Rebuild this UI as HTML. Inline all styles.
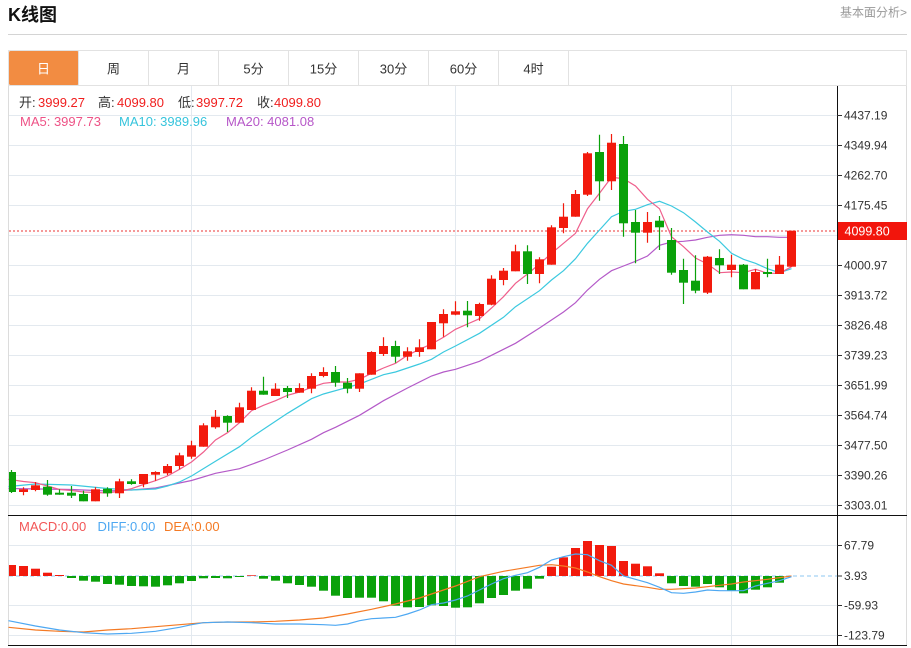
<!DOCTYPE html>
<html><head><meta charset="utf-8"><style>
html,body{margin:0;padding:0;background:#fff;width:911px;height:648px;overflow:hidden}
svg{display:block}
text{font-family:"Liberation Sans","Noto Sans CJK SC",sans-serif}
</style></head><body>
<svg width="911" height="648" viewBox="0 0 911 648" xmlns="http://www.w3.org/2000/svg">
<rect width="911" height="648" fill="#fff"/>
<!-- header -->
<text x="8" y="21" font-size="18" font-weight="bold" fill="#111">K线图</text>
<text x="907" y="16.5" font-size="12" fill="#999" text-anchor="end">基本面分析&gt;</text>
<rect x="8" y="34" width="899" height="1" fill="#d4d4d4"/>
<!-- tabs -->
<rect x="8.5" y="50.5" width="898" height="35" fill="#fff" stroke="#e2e2e2"/>
<rect x="9" y="51" width="69.5" height="34" fill="#f28c42" rx="1.5"/>
<g stroke="#e2e2e2">
<line x1="78.5" y1="51" x2="78.5" y2="85"/><line x1="148.5" y1="51" x2="148.5" y2="85"/><line x1="218.5" y1="51" x2="218.5" y2="85"/><line x1="288.5" y1="51" x2="288.5" y2="85"/><line x1="358.5" y1="51" x2="358.5" y2="85"/><line x1="428.5" y1="51" x2="428.5" y2="85"/><line x1="498.5" y1="51" x2="498.5" y2="85"/><line x1="568.5" y1="51" x2="568.5" y2="85"/>
</g>
<g font-size="13" text-anchor="middle" fill="#333">
<text x="43.5" y="73.5" fill="#fff">日</text><text x="113.5" y="73.5">周</text><text x="183.5" y="73.5">月</text><text x="253.5" y="73.5">5分</text><text x="323.5" y="73.5">15分</text><text x="393.5" y="73.5">30分</text><text x="463.5" y="73.5">60分</text><text x="533.5" y="73.5">4时</text>
</g>
<!-- chart frame -->
<line x1="8.5" y1="86" x2="8.5" y2="646" stroke="#dcdcdc"/>
<line x1="906.5" y1="86" x2="906.5" y2="646" stroke="#dcdcdc"/>
<!-- grid -->
<g stroke="#e3e9ef" stroke-width="1">
<line x1="9" y1="115.5" x2="837" y2="115.5"/><line x1="9" y1="145.5" x2="837" y2="145.5"/><line x1="9" y1="175.5" x2="837" y2="175.5"/><line x1="9" y1="205.5" x2="837" y2="205.5"/><line x1="9" y1="235.5" x2="837" y2="235.5"/><line x1="9" y1="265.5" x2="837" y2="265.5"/><line x1="9" y1="295.5" x2="837" y2="295.5"/><line x1="9" y1="325.5" x2="837" y2="325.5"/><line x1="9" y1="355.5" x2="837" y2="355.5"/><line x1="9" y1="385.5" x2="837" y2="385.5"/><line x1="9" y1="415.5" x2="837" y2="415.5"/><line x1="9" y1="445.5" x2="837" y2="445.5"/><line x1="9" y1="475.5" x2="837" y2="475.5"/><line x1="9" y1="505.5" x2="837" y2="505.5"/>
<line x1="9" y1="545.5" x2="837" y2="545.5"/><line x1="9" y1="605.5" x2="837" y2="605.5"/><line x1="9" y1="635.5" x2="837" y2="635.5"/>
<line x1="191.5" y1="86" x2="191.5" y2="645"/><line x1="455.5" y1="86" x2="455.5" y2="645"/><line x1="731.5" y1="86" x2="731.5" y2="645"/>
</g>
<!-- current price dotted -->
<line x1="9" y1="231" x2="837" y2="231" stroke="#f27878" stroke-width="1.5" stroke-dasharray="2 2"/>
<!-- MACD zero dashed -->
<line x1="9" y1="576" x2="837" y2="576" stroke="#b3daf5" stroke-width="1.5" stroke-dasharray="4 3"/>

<!-- MA lines -->
<polyline fill="none" stroke="#b45ac8" stroke-width="1.2" points="8.5,488.5 71.5,489.5 107.5,491 131.5,490 155.5,488 191.5,480.5 215.5,473.3 239.5,468.7 263.5,460 287.5,450 311.5,439.3 323.5,432.7 335.5,427.3 359.5,415.3 383.5,400.7 407.5,388 431.5,376 443.5,372 455.5,369.3 479.5,361.3 503.5,349.3 515.5,343.3 539.5,328 551.5,320 563.5,312 575.5,302.7 587.5,290 599.5,279.3 611.5,270.7 623.5,266 635.5,261.3 647.5,256 659.5,245.3 671.5,242 683.5,241.3 695.5,240 707.5,237.3 719.5,235.3 731.5,234.7 743.5,235.3 755.5,236.7 767.5,236.7 779.5,237.3 791.5,237.3"/>
<polyline fill="none" stroke="#3cc9df" stroke-width="1.2" points="8.5,486.5 35.5,484 71.5,485 107.5,488.5 131.5,490 155.5,489 167.5,486 179.5,482 191.5,476 215.5,461.3 239.5,446.7 251.5,437.3 263.5,429.3 287.5,413.3 311.5,398.7 323.5,394 347.5,387.3 359.5,384 383.5,374.7 395.5,372 419.5,364 431.5,359.3 443.5,352 455.5,346 479.5,333.3 503.5,317.3 515.5,306.7 539.5,290.7 551.5,280 563.5,270.7 575.5,258.7 587.5,243.3 599.5,230 611.5,216.7 623.5,211.3 635.5,209.3 647.5,204.7 659.5,201.3 671.5,206 683.5,212.7 695.5,222 707.5,232 719.5,241.3 731.5,253.3 743.5,259.3 755.5,263.3 767.5,268.7 779.5,272.7 791.5,268.7"/>
<polyline fill="none" stroke="#ef5f8c" stroke-width="1.2" points="8.5,479.3 23.5,481.5 35.5,482.7 47.5,486 59.5,489.5 71.5,490.5 83.5,492 95.5,492.5 107.5,493 119.5,491.3 131.5,488.7 143.5,484.5 155.5,480.7 167.5,476 179.5,469.3 191.5,462 203.5,452 215.5,440 227.5,432.7 239.5,422.7 251.5,410.7 263.5,405.3 275.5,400.7 287.5,395.3 299.5,392 311.5,387.3 323.5,383.3 335.5,382 347.5,382 359.5,379.3 371.5,373.3 383.5,368 395.5,363.3 407.5,355.3 419.5,349.3 431.5,344 443.5,337.3 455.5,329.3 467.5,324 479.5,318.7 491.5,308 503.5,296.7 515.5,283.3 527.5,274 539.5,264 551.5,253.3 563.5,243.3 575.5,233.3 587.5,208.7 599.5,193.3 611.5,177.3 623.5,178.7 635.5,186 647.5,199.3 659.5,208.7 671.5,236.7 683.5,246.7 695.5,258 707.5,264 719.5,272.7 731.5,272 743.5,272.7 755.5,269.3 767.5,273.3 779.5,273.3 791.5,266.7"/>

<!-- wicks -->
<path fill="none" stroke="#f21a0d" stroke-width="1.2" d="M23.5 487.3V495.3M35.5 482V491.3M95.5 487.3V501.3M119.5 478.7V498M143.5 474V487.3M155.5 471.3V480.7M167.5 464V475.3M179.5 452.7V469.3M191.5 440.7V458.7M203.5 423.3V446.7M215.5 410V428.7M239.5 402.7V422.7M251.5 387.3V410M275.5 383.3V396M299.5 383.3V392.7M311.5 373.3V393.3M323.5 367.3V377.3M359.5 373.3V392M371.5 351.3V374.7M383.5 337.3V356M407.5 347.3V360.7M419.5 339.3V356.7M431.5 322V349.3M443.5 309.3V336.7M455.5 301.3V315.3M479.5 302.7V320.7M491.5 275.3V305.3M503.5 268V285.3M515.5 244.7V271.3M539.5 257.3V283.3M551.5 225.3V264.7M563.5 203.3V233.3M575.5 190V216.7M587.5 152V196M611.5 134V190M647.5 212V242.7M707.5 256V294M731.5 254.7V277.3M755.5 269.3V289.3M779.5 256V274M791.5 230.7V266.7"/>
<path fill="none" stroke="#0aa10a" stroke-width="1.2" d="M11.5 470V493M47.5 480V495.7M59.5 489.3V494.7M71.5 486V498M83.5 490.7V501.3M107.5 487.3V496.7M131.5 479.3V484.7M227.5 415.3V432M263.5 376.7V394.7M287.5 386V398M335.5 366V386.7M347.5 378V393.3M395.5 340.7V362.7M467.5 301V327.3M527.5 245.3V284M599.5 134.7V200.7M623.5 136V236.7M635.5 210V263.3M659.5 216V250M671.5 228V274.7M683.5 258.7V304M695.5 255.3V293.3M719.5 249.3V274M743.5 264V289.3M767.5 258.7V277.3"/>
<!-- bodies red -->
<g fill="#f21a0d">
<rect x="19" y="489.3" width="9" height="2.7"/><rect x="31" y="485.3" width="9" height="4.7"/><rect x="91" y="489.3" width="9" height="12"/><rect x="115" y="481.3" width="9" height="12"/><rect x="139" y="474" width="9" height="10"/><rect x="151" y="472" width="9" height="2.7"/><rect x="163" y="466" width="9" height="7.3"/><rect x="175" y="455.3" width="9" height="10.7"/><rect x="187" y="445.3" width="9" height="11.4"/><rect x="199" y="425.3" width="9" height="21.4"/><rect x="211" y="416.7" width="9" height="10.6"/><rect x="235" y="407.3" width="9" height="15.4"/><rect x="247" y="390.7" width="9" height="19.3"/><rect x="271" y="388.7" width="9" height="7.3"/><rect x="295" y="388" width="9" height="4.7"/><rect x="307" y="376" width="9" height="12.7"/><rect x="319" y="372" width="9" height="4"/><rect x="355" y="373.3" width="9" height="15.4"/><rect x="367" y="352" width="9" height="22.7"/><rect x="379" y="346" width="9" height="8"/><rect x="403" y="351.3" width="9" height="5.4"/><rect x="415" y="347.3" width="9" height="4.7"/><rect x="427" y="322" width="9" height="27.3"/><rect x="439" y="314" width="9" height="9.3"/><rect x="451" y="311.3" width="9" height="3.4"/><rect x="475" y="304" width="9" height="12"/><rect x="487" y="278.7" width="9" height="26"/><rect x="499" y="270.7" width="9" height="9.3"/><rect x="511" y="251.3" width="9" height="20"/><rect x="535" y="259.3" width="9" height="14.7"/><rect x="547" y="227.3" width="9" height="37.4"/><rect x="559" y="216.7" width="9" height="11.3"/><rect x="571" y="194" width="9" height="22.7"/><rect x="583" y="153.3" width="9" height="41.4"/><rect x="607" y="142.7" width="9" height="38.6"/><rect x="643" y="222" width="9" height="10.7"/><rect x="703" y="256.7" width="9" height="36"/><rect x="727" y="264.7" width="9" height="5.3"/><rect x="751" y="272" width="9" height="17.3"/><rect x="775" y="264.7" width="9" height="9.3"/><rect x="787" y="230.7" width="9" height="36"/>
</g>
<!-- bodies green -->
<g fill="#0aa10a">
<rect x="9" y="472" width="7" height="20"/><rect x="43" y="486.7" width="9" height="8"/><rect x="55" y="492.7" width="9" height="2"/><rect x="67" y="492.7" width="9" height="3"/><rect x="79" y="494" width="9" height="7.3"/><rect x="103" y="488.7" width="9" height="4.6"/><rect x="127" y="481.3" width="9" height="2.7"/><rect x="223" y="416" width="9" height="6.7"/><rect x="259" y="390.7" width="9" height="4"/><rect x="283" y="388" width="9" height="4"/><rect x="331" y="372" width="9" height="10.7"/><rect x="343" y="382.7" width="9" height="6"/><rect x="391" y="346" width="9" height="10.7"/><rect x="463" y="310.7" width="9" height="4.6"/><rect x="523" y="251.3" width="9" height="22.7"/><rect x="595" y="152" width="9" height="29.3"/><rect x="619" y="144" width="9" height="79.3"/><rect x="631" y="222" width="9" height="10.7"/><rect x="655" y="220.7" width="9" height="6.6"/><rect x="667" y="240" width="9" height="32.7"/><rect x="679" y="270" width="9" height="12.7"/><rect x="691" y="280.7" width="9" height="10"/><rect x="715" y="258" width="9" height="7.3"/><rect x="739" y="264.7" width="9" height="24.6"/><rect x="763" y="272" width="9" height="2"/>
</g>

<!-- MACD bars -->
<g fill="#f21a0d">
<rect x="9" y="565" width="7" height="11"/><rect x="19" y="566" width="9" height="10"/><rect x="31" y="568.7" width="9" height="7.3"/><rect x="43" y="572.7" width="9" height="3.3"/><rect x="55" y="575" width="9" height="1"/><rect x="247" y="575.3" width="9" height="0.7"/><rect x="547" y="566.7" width="9" height="9.3"/><rect x="559" y="557.3" width="9" height="18.7"/><rect x="571" y="548" width="9" height="28"/><rect x="583" y="541" width="9" height="35"/><rect x="595" y="545" width="9" height="31"/><rect x="607" y="546" width="9" height="30"/><rect x="619" y="561" width="9" height="15"/><rect x="631" y="563.7" width="9" height="12.3"/><rect x="643" y="566.3" width="9" height="9.7"/><rect x="655" y="573.3" width="9" height="2.7"/>
</g>
<g fill="#0aa10a">
<rect x="67" y="576" width="9" height="2"/><rect x="79" y="576" width="9" height="4.7"/><rect x="91" y="576" width="9" height="5.7"/><rect x="103" y="576" width="9" height="8"/><rect x="115" y="576" width="9" height="8.7"/><rect x="127" y="576" width="9" height="10"/><rect x="139" y="576" width="9" height="10.3"/><rect x="151" y="576" width="9" height="10.7"/><rect x="163" y="576" width="9" height="9.3"/><rect x="175" y="576" width="9" height="7.3"/><rect x="187" y="576" width="9" height="5"/><rect x="199" y="576" width="9" height="2.3"/><rect x="211" y="576" width="9" height="2"/><rect x="223" y="576" width="9" height="2.3"/><rect x="235" y="576" width="9" height="1"/><rect x="259" y="576" width="9" height="2.7"/><rect x="271" y="576" width="9" height="4.7"/><rect x="283" y="576" width="9" height="7.3"/><rect x="295" y="576" width="9" height="9"/><rect x="307" y="576" width="9" height="10.7"/><rect x="319" y="576" width="9" height="14.7"/><rect x="331" y="576" width="9" height="19.7"/><rect x="343" y="576" width="9" height="22"/><rect x="355" y="576" width="9" height="21.7"/><rect x="367" y="576" width="9" height="21.7"/><rect x="379" y="576" width="9" height="25.3"/><rect x="391" y="576" width="9" height="29.7"/><rect x="403" y="576" width="9" height="31.3"/><rect x="415" y="576" width="9" height="31"/><rect x="427" y="576" width="9" height="29.3"/><rect x="439" y="576" width="9" height="30"/><rect x="451" y="576" width="9" height="31.7"/><rect x="463" y="576" width="9" height="31.3"/><rect x="475" y="576" width="9" height="27.3"/><rect x="487" y="576" width="9" height="22"/><rect x="499" y="576" width="9" height="19"/><rect x="511" y="576" width="9" height="14.7"/><rect x="523" y="576" width="9" height="12.7"/><rect x="535" y="576" width="9" height="2.7"/><rect x="667" y="576" width="9" height="7.3"/><rect x="679" y="576" width="9" height="10"/><rect x="691" y="576" width="9" height="10.7"/><rect x="703" y="576" width="9" height="8"/><rect x="715" y="576" width="9" height="11.3"/><rect x="727" y="576" width="9" height="14.7"/><rect x="739" y="576" width="9" height="17.3"/><rect x="751" y="576" width="9" height="13.7"/><rect x="763" y="576" width="9" height="11.3"/><rect x="775" y="576" width="9" height="6.7"/>
</g>
<!-- DIFF / DEA -->
<polyline fill="none" stroke="#f47a24" stroke-width="1.2" points="8.5,627.3 35.5,630 59.5,631.3 83.5,632 107.5,630 131.5,628.7 155.5,626.7 179.5,624.7 203.5,622.7 227.5,622 251.5,622 275.5,621.3 299.5,620 323.5,618 347.5,614 371.5,609.3 395.5,604 419.5,598 443.5,590 455.5,586 479.5,576.7 503.5,571.3 527.5,567.3 539.5,565.3 551.5,564.7 563.5,566 575.5,568 587.5,572 599.5,576.7 611.5,580.7 623.5,584 647.5,587.3 659.5,589.3 671.5,589.3 695.5,588 719.5,585.3 731.5,584 743.5,582 767.5,579.3 791.5,576"/>
<polyline fill="none" stroke="#4ea8f2" stroke-width="1.2" points="8.5,620.7 35.5,626 59.5,630 83.5,632.7 107.5,634 131.5,633.3 155.5,631.3 179.5,627.3 191.5,624.7 203.5,622.7 227.5,622 251.5,622.7 275.5,624 299.5,624 323.5,624.7 335.5,625.3 347.5,624 359.5,620.7 371.5,618.7 383.5,618 395.5,617.3 407.5,614 419.5,610 431.5,604.7 443.5,603 455.5,600 467.5,596 479.5,590 491.5,584 503.5,578.7 515.5,575.3 527.5,572.7 539.5,567.3 551.5,560 563.5,556.7 575.5,554 587.5,554.7 599.5,560.7 611.5,565.3 623.5,576 635.5,579.3 647.5,582.7 659.5,587.3 671.5,592.7 683.5,593.3 695.5,592 707.5,590 719.5,590.7 731.5,590.7 743.5,590.7 755.5,586 767.5,583.3 779.5,580.7 791.5,576.7"/>

<!-- separators / axis -->
<line x1="8" y1="515.5" x2="907" y2="515.5" stroke="#111"/>
<line x1="8" y1="645.5" x2="907" y2="645.5" stroke="#111"/>
<line x1="837.5" y1="86" x2="837.5" y2="646" stroke="#111"/>
<g stroke="#333">
<line x1="837" y1="115.5" x2="842" y2="115.5"/><line x1="837" y1="145.5" x2="842" y2="145.5"/><line x1="837" y1="175.5" x2="842" y2="175.5"/><line x1="837" y1="205.5" x2="842" y2="205.5"/><line x1="837" y1="265.5" x2="842" y2="265.5"/><line x1="837" y1="295.5" x2="842" y2="295.5"/><line x1="837" y1="325.5" x2="842" y2="325.5"/><line x1="837" y1="355.5" x2="842" y2="355.5"/><line x1="837" y1="385.5" x2="842" y2="385.5"/><line x1="837" y1="415.5" x2="842" y2="415.5"/><line x1="837" y1="445.5" x2="842" y2="445.5"/><line x1="837" y1="475.5" x2="842" y2="475.5"/><line x1="837" y1="505.5" x2="842" y2="505.5"/>
<line x1="837" y1="545.5" x2="842" y2="545.5"/><line x1="837" y1="576" x2="842" y2="576"/><line x1="837" y1="605.5" x2="842" y2="605.5"/><line x1="837" y1="635.5" x2="842" y2="635.5"/>
</g>
<g font-size="12" fill="#333">
<text x="844" y="119.7">4437.19</text><text x="844" y="149.7">4349.94</text><text x="844" y="179.7">4262.70</text><text x="844" y="209.7">4175.45</text><text x="844" y="269.7">4000.97</text><text x="844" y="299.7">3913.72</text><text x="844" y="329.7">3826.48</text><text x="844" y="359.7">3739.23</text><text x="844" y="389.7">3651.99</text><text x="844" y="419.7">3564.74</text><text x="844" y="449.7">3477.50</text><text x="844" y="479.7">3390.26</text><text x="844" y="509.7">3303.01</text>
<text x="844" y="549.7">67.79</text><text x="844" y="580.2">3.93</text><text x="844" y="609.7">-59.93</text><text x="844" y="639.7">-123.79</text>
</g>
<rect x="838" y="222" width="69" height="18" fill="#f2150c"/>
<text x="844.5" y="235.3" font-size="12.5" fill="#fff">4099.80</text>

<!-- legends -->
<g font-size="13">
<text x="19" y="107" fill="#333">开:</text><text x="38" y="107" fill="#f01e1e">3999.27</text>
<text x="98" y="107" fill="#333">高:</text><text x="117" y="107" fill="#f01e1e">4099.80</text>
<text x="178" y="107" fill="#333">低:</text><text x="196" y="107" fill="#f01e1e">3997.72</text>
<text x="257" y="107" fill="#333">收:</text><text x="274" y="107" fill="#f01e1e">4099.80</text>
<text x="20" y="126" fill="#ee5286">MA5: 3997.73</text>
<text x="119" y="126" fill="#36c4dc">MA10: 3989.96</text>
<text x="226" y="126" fill="#b657c8">MA20: 4081.08</text>
<text x="19" y="531" fill="#f25656">MACD:0.00</text>
<text x="97.5" y="531" fill="#4ea8f2">DIFF:0.00</text>
<text x="164" y="531" fill="#f47a24">DEA:0.00</text>
</g>
</svg>
</body></html>
